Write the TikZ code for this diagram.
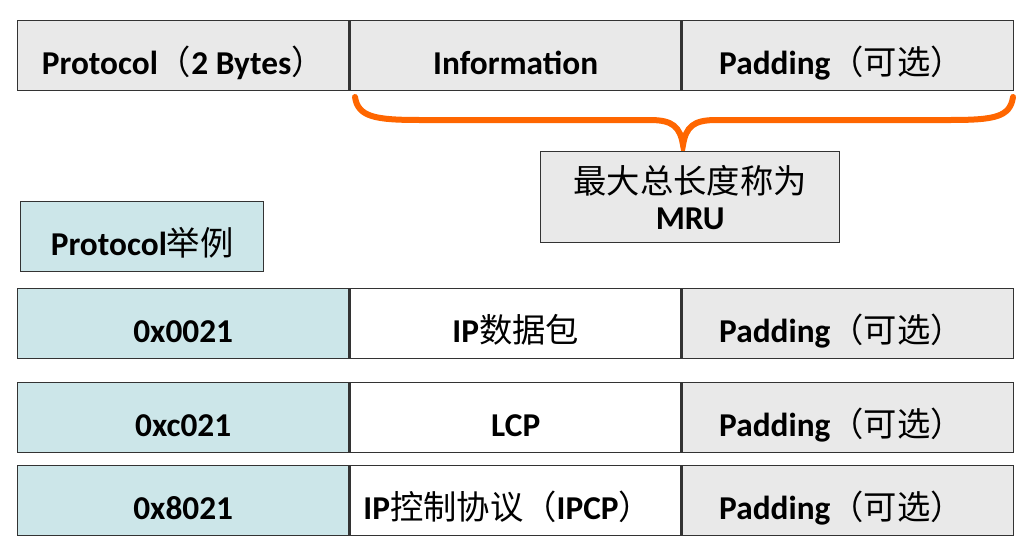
\documentclass[tikz,border=0pt]{standalone}
\usepackage{fontspec}
\setmainfont{Carlito}
\newfontfamily\cjk{Noto Sans CJK SC}
\newcommand{\zh}[1]{{\cjk\mdseries #1}}
\definecolor{cellgray}{HTML}{E9E9E9}
\definecolor{cellteal}{HTML}{CCE6E9}
\definecolor{braceorange}{HTML}{FF6600}
\begin{document}
\begin{tikzpicture}[x=0.75pt,y=-0.75pt,
  basebox/.style={draw=black!80, line width=1.1pt, rectangle, inner sep=0pt,
    minimum width=248.25pt, minimum height=52.5pt, font=\fontsize{25}{29}\selectfont\bfseries},
  cell/.style={basebox, text height=30pt, text depth=2pt},
  gray/.style={fill=cellgray},
  teal/.style={fill=cellteal},
  white/.style={fill=white},
  bracepath/.style={draw=braceorange, line width=4.5pt, line cap=round}]
\useasboundingbox (0,0) rectangle (1030,553);
% top row
\node[cell,gray,anchor=north west] (p) at (17,20) {Protocol\zh{（}2 Bytes\zh{）}};
\node[cell,gray,anchor=west] (i) at (p.east) {Information};
\node[cell,gray,anchor=west] (pad) at (i.east) {\hspace*{-10pt}Padding\zh{（可选）}};
% brace
\coordinate (bl) at (355,97);
\coordinate (bt) at (683,145);
\coordinate (br) at (1013,97);
\draw[bracepath] (bl) .. controls (358,117) and (375,120) .. (420,120) -- (650,120)
  .. controls (673,120) and (680,127) .. (bt)
  .. controls (686,127) and (693,120) .. (716,120) -- (950,120)
  .. controls (995,120) and (1010,117) .. (br);
% MRU box
\node[basebox,gray,anchor=north west,minimum width=224.25pt,minimum height=68.25pt,align=center,
  font=\fontsize{25}{27}\selectfont\bfseries] (mru) at (540,151) {\zh{最大总长度称为}\\MRU};
% Protocol example label
\node[cell,teal,anchor=north west,minimum width=182.25pt] (ex) at (20,201) {Protocol\zh{举例}};
% row 1
\node[cell,teal,anchor=north west] (r1a) at (17,288) {0x0021};
\node[cell,white,anchor=west] (r1b) at (r1a.east) {IP\zh{数据包}};
\node[cell,gray,anchor=west] (r1c) at (r1b.east) {\hspace*{-10pt}Padding\zh{（可选）}};
% row 2
\node[cell,teal,anchor=north west] (r2a) at (17,382) {0xc021};
\node[cell,white,anchor=west] (r2b) at (r2a.east) {LCP};
\node[cell,gray,anchor=west] (r2c) at (r2b.east) {\hspace*{-10pt}Padding\zh{（可选）}};
% row 3
\node[cell,teal,anchor=north west] (r3a) at (17,465) {0x8021};
\node[cell,white,anchor=west] (r3b) at (r3a.east) {\hspace*{-12pt}IP\zh{控制协议（}IPCP\zh{）}};
\node[cell,gray,anchor=west] (r3c) at (r3b.east) {\hspace*{-10pt}Padding\zh{（可选）}};
\end{tikzpicture}
\end{document}
